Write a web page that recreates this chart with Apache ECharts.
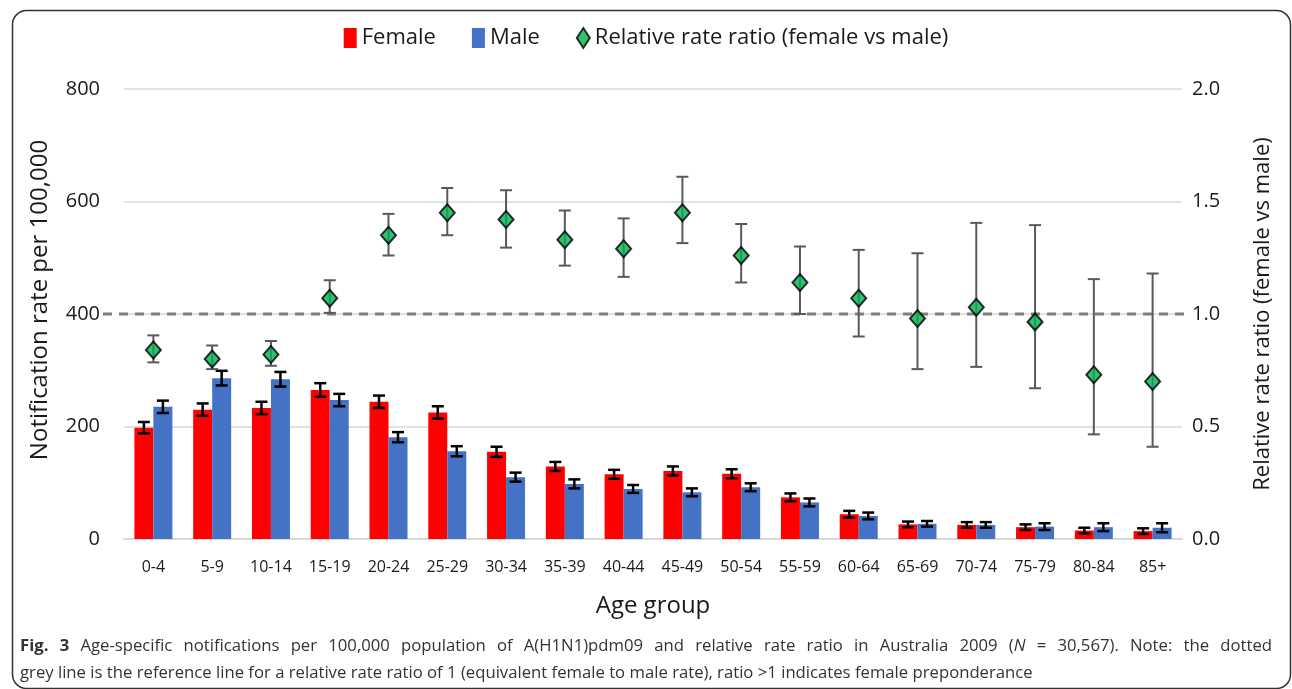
<!DOCTYPE html>
<html>
<head>
<meta charset="utf-8">
<script src="https://cdn.jsdelivr.net/npm/echarts@6/dist/echarts.min.js"></script>
<style>
html,body{margin:0;padding:0;background:#fff;}
#chart{width:1292px;height:689px;}
</style>
</head>
<body>
<div id="chart"></div>
<script>
const categories = ['0-4','5-9','10-14','15-19','20-24','25-29','30-34','35-39','40-44','45-49','50-54','55-59','60-64','65-69','70-74','75-79','80-84','85+'];
const femaleRate = [198, 230, 233, 265, 244, 225, 155, 129, 115, 121, 116, 74, 44, 26, 25, 21, 15, 14];
const femaleErr  = [10, 11, 11, 12, 11, 11, 9, 8, 8, 8, 8, 7, 6, 5, 5, 5, 5, 5];
const maleRate   = [235, 286, 284, 247, 181, 156, 110, 98, 89, 83, 92, 65, 41, 27, 25, 22, 21, 20];
const maleErr    = [11, 13, 13, 11, 9, 9, 8, 8, 7, 7, 7, 7, 6, 5, 5, 6, 7, 8];
const ratio      = [0.84, 0.80, 0.82, 1.07, 1.35, 1.45, 1.42, 1.33, 1.29, 1.45, 1.26, 1.14, 1.07, 0.98, 1.03, 0.965, 0.73, 0.70];
const ratioLow   = [0.785, 0.755, 0.77, 1.005, 1.26, 1.35, 1.295, 1.215, 1.165, 1.315, 1.14, 1.0, 0.90, 0.755, 0.765, 0.67, 0.465, 0.41];
const ratioHigh  = [0.905, 0.86, 0.88, 1.15, 1.445, 1.56, 1.55, 1.46, 1.425, 1.61, 1.40, 1.30, 1.285, 1.27, 1.405, 1.395, 1.155, 1.18];
const referenceRatio = 1.0;

const captionLine1 = 'Fig. 3 Age-specific notifications per 100,000 population of A(H1N1)pdm09 and relative rate ratio in Australia 2009 (N = 30,567). Note: the dotted';
const captionLine2 = 'grey line is the reference line for a relative rate ratio of 1 (equivalent female to male rate), ratio >1 indicates female preponderance';

const FONT = '"Open Sans", "Noto Sans", sans-serif';
const BAR_W = 19;
const CAP_SIZE = 16.7;
const CAP_COLOR = '#333333';

function errRender(offset, color, lw, capHalf) {
  return function (params, api) {
    const i = api.value(0);
    const lo = api.coord([i, api.value(1)]);
    const hi = api.coord([i, api.value(2)]);
    const x = lo[0] + offset;
    const style = { stroke: color, lineWidth: lw };
    return {
      type: 'group',
      children: [
        { type: 'line', shape: { x1: x, y1: lo[1], x2: x, y2: hi[1] }, style: style },
        { type: 'line', shape: { x1: x - capHalf, y1: lo[1], x2: x + capHalf, y2: lo[1] }, style: style },
        { type: 'line', shape: { x1: x - capHalf, y1: hi[1], x2: x + capHalf, y2: hi[1] }, style: style }
      ]
    };
  };
}

const femaleErrData = categories.map((c, i) => [i, femaleRate[i] - femaleErr[i], femaleRate[i] + femaleErr[i]]);
const maleErrData = categories.map((c, i) => [i, maleRate[i] - maleErr[i], maleRate[i] + maleErr[i]]);
const ratioErrData = categories.map((c, i) => [i, ratioLow[i], ratioHigh[i]]);

// Justified caption first line
const mctx = document.createElement('canvas').getContext('2d');
function fontStr(kind) {
  const w = kind === 'b' ? 'bold ' : '';
  const s = kind === 'i' ? 'italic ' : '';
  return s + w + CAP_SIZE + 'px ' + FONT;
}
function measure(text, kind) { mctx.font = fontStr(kind); return mctx.measureText(text).width; }
const words = captionLine1.split(' ');
const wordItems = words.map((w, idx) => {
  let segs;
  if (idx < 2) segs = [[w, 'b']];
  else if (w === '(N') segs = [['(', 'n'], ['N', 'i']];
  else segs = [[w, 'n']];
  const width = segs.reduce((s, g) => s + measure(g[0], g[1]), 0);
  const text = segs.map(g => g[1] === 'n' ? g[0] : '{' + g[1] + '|' + g[0] + '}').join('');
  return { text, width };
});
const CAP_LEFT = 20, CAP_RIGHT = 1272;
const totalW = wordItems.reduce((s, w) => s + w.width, 0);
const gapW = (CAP_RIGHT - CAP_LEFT - totalW) / (wordItems.length - 1);
const richStyles = {
  b: { fontFamily: FONT, fontSize: CAP_SIZE, fontWeight: 'bold', fill: CAP_COLOR },
  i: { fontFamily: FONT, fontSize: CAP_SIZE, fontStyle: 'italic', fill: CAP_COLOR }
};
const captionGraphics = [];
let cx = CAP_LEFT;
wordItems.forEach(w => {
  captionGraphics.push({
    type: 'text', x: cx, y: 646, silent: true,
    style: { text: w.text, font: CAP_SIZE + 'px ' + FONT, fill: CAP_COLOR, verticalAlign: 'middle', rich: richStyles }
  });
  cx += w.width + gapW;
});
captionGraphics.push({
  type: 'text', x: CAP_LEFT, y: 673, silent: true,
  style: { text: captionLine2, font: CAP_SIZE + 'px ' + FONT, fill: CAP_COLOR, verticalAlign: 'middle' }
});

const chart = echarts.init(document.getElementById('chart'), null, { renderer: 'canvas' });
chart.setOption({
  backgroundColor: '#ffffff',
  animation: false,
  textStyle: { fontFamily: FONT },
  legend: {
    top: 22,
    left: 'center',
    itemGap: 36,
    itemWidth: 13,
    itemHeight: 20,
    textStyle: { fontFamily: FONT, fontSize: 22, color: '#1a1a1a' },
    data: [
      { name: 'Female', icon: 'rect' },
      { name: 'Male', icon: 'rect' },
      { name: 'Relative rate ratio (female vs male)', icon: 'diamond' }
    ]
  },
  grid: [
    { left: 124, right: 110, top: 89, bottom: 150 },
    { left: 103, right: 104, top: 89, bottom: 150 }
  ],
  xAxis: [
    {
      type: 'category', gridIndex: 0, data: categories,
      axisLine: { show: true, lineStyle: { color: '#d9d9d9', width: 2 } },
      axisTick: { show: false },
      axisLabel: { fontFamily: FONT, fontSize: 16, color: '#1a1a1a', margin: 20 }
    },
    { type: 'value', gridIndex: 1, min: 0, max: 1, show: false }
  ],
  yAxis: [
    {
      type: 'value', gridIndex: 0, min: 0, max: 800, interval: 200,
      axisLine: { show: false }, axisTick: { show: false },
      axisLabel: { fontFamily: FONT, fontSize: 20, color: '#1a1a1a', margin: 24 },
      splitLine: { lineStyle: { color: '#d9d9d9', width: 1.5 } }
    },
    {
      type: 'value', gridIndex: 0, min: 0, max: 2, interval: 0.5, position: 'right',
      axisLine: { show: false }, axisTick: { show: false },
      axisLabel: { fontFamily: FONT, fontSize: 20, color: '#1a1a1a', margin: 10, formatter: v => v.toFixed(1) },
      splitLine: { show: false }
    },
    { type: 'value', gridIndex: 1, min: 0, max: 2, show: false }
  ],
  series: [
    {
      name: 'Reference', type: 'line', xAxisIndex: 1, yAxisIndex: 2,
      data: [[0, referenceRatio], [1, referenceRatio]],
      symbol: 'none', silent: true, z: 1,
      lineStyle: { color: '#7f7f7f', width: 3, type: [9, 7] }
    },
    {
      name: 'Female', type: 'bar', data: femaleRate, barWidth: BAR_W, barGap: '0%',
      itemStyle: { color: '#ff0000' }, z: 2
    },
    {
      name: 'Male', type: 'bar', data: maleRate, barWidth: BAR_W, barGap: '0%',
      itemStyle: { color: '#4472c4' }, z: 2
    },
    {
      name: 'FemaleErr', type: 'custom', data: femaleErrData, renderItem: errRender(-BAR_W / 2, '#000000', 2.5, 6), z: 3, silent: true
    },
    {
      name: 'MaleErr', type: 'custom', data: maleErrData, renderItem: errRender(BAR_W / 2, '#000000', 2.5, 6), z: 3, silent: true
    },
    {
      name: 'RatioErr', type: 'custom', yAxisIndex: 1, data: ratioErrData, renderItem: errRender(0, '#595959', 2, 6), z: 4, silent: true
    },
    {
      name: 'Relative rate ratio (female vs male)', type: 'scatter', yAxisIndex: 1, data: ratio,
      symbol: 'diamond', symbolSize: [15, 17], z: 5,
      itemStyle: { color: '#00b050', borderColor: '#000000', borderWidth: 2 }
    }
  ],
  graphic: [
    {
      type: 'rect', left: 10, top: 8, silent: true, z: -1,
      shape: { width: 1278, height: 678, r: 14 },
      style: { fill: 'none', stroke: '#333333', lineWidth: 1.5 }
    },
    {
      type: 'text', x: 40, y: 300, rotation: Math.PI / 2, silent: true,
      style: { text: 'Notification rate per 100,000', font: '24px ' + FONT, fill: '#1a1a1a', align: 'center', verticalAlign: 'middle' }
    },
    {
      type: 'text', x: 1263, y: 314, rotation: Math.PI / 2, silent: true,
      style: { text: 'Relative rate ratio (female vs male)', font: '22px ' + FONT, fill: '#1a1a1a', align: 'center', verticalAlign: 'middle' }
    },
    {
      type: 'text', x: 653, y: 606, silent: true,
      style: { text: 'Age group', font: '24px ' + FONT, fill: '#1a1a1a', align: 'center', verticalAlign: 'middle' }
    }
  ].concat(captionGraphics)
});
</script>
</body>
</html>
